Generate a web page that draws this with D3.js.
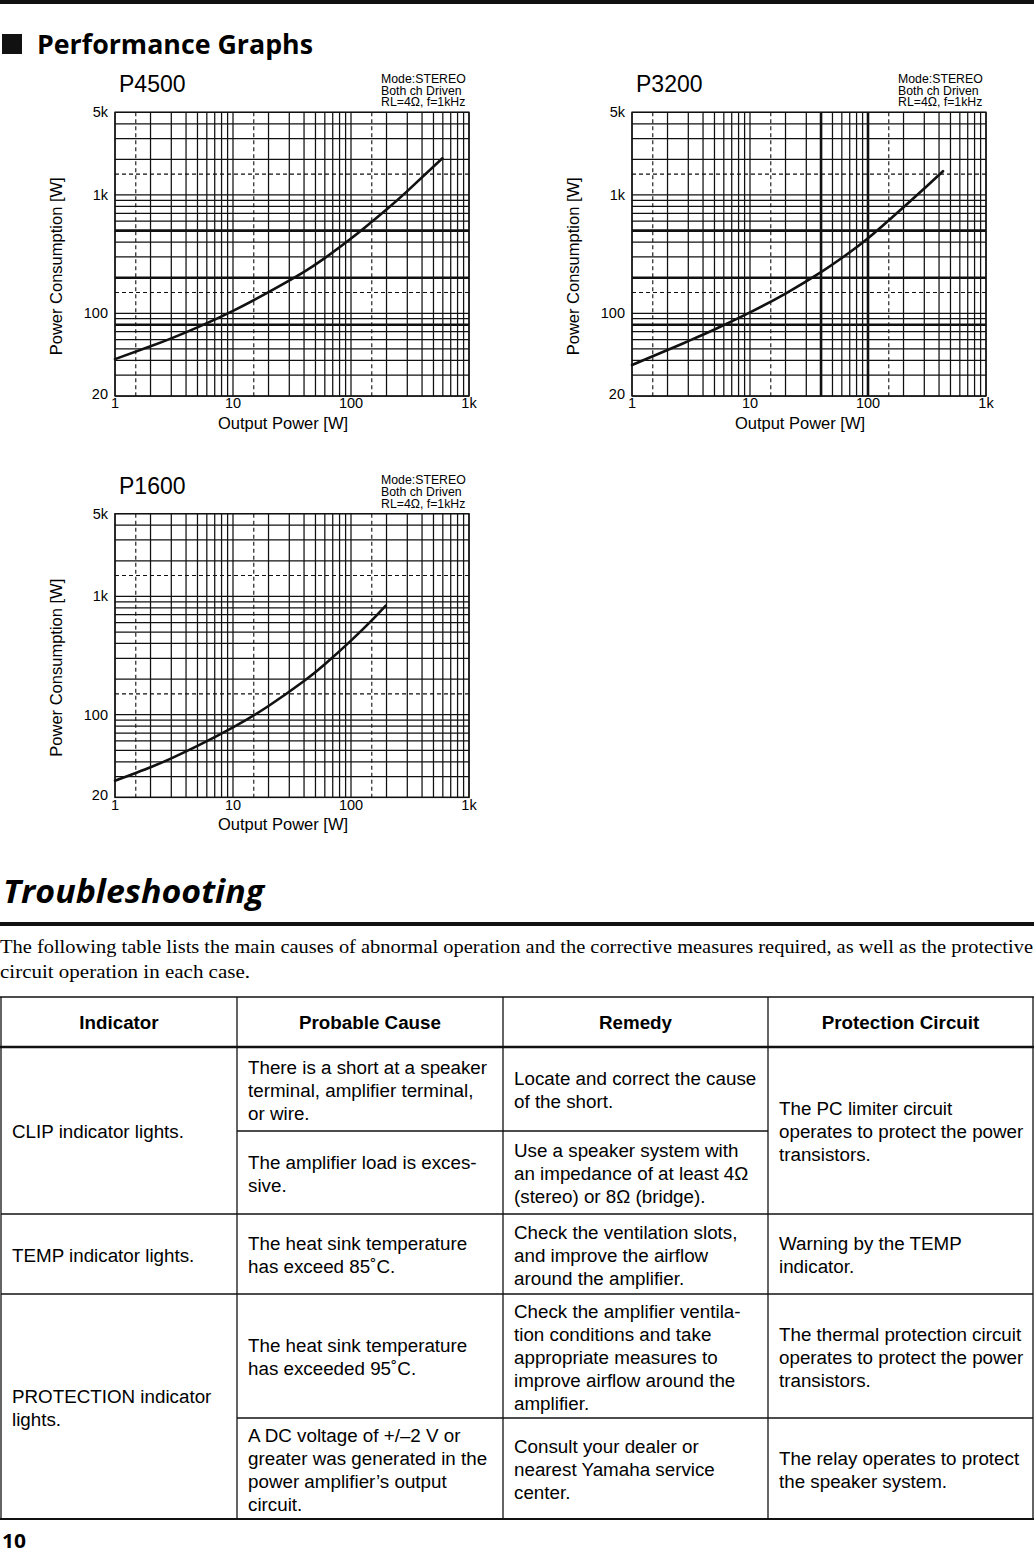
<!DOCTYPE html>
<html>
<head>
<meta charset="utf-8">
<script src="https://cdn.jsdelivr.net/npm/d3@7"></script>
<style>
  body { margin: 0; background: #fff; }
  svg { display: block; }
</style>
</head>
<body>
<div id="page"></div>
<script>
// axis ticks
const xTicks = [1, 10, 100, 1000];
const xTickLabels = ["1", "10", "100", "1k"];
const yTicks = [20, 100, 1000, 5000];
const yTickLabels = ["20", "100", "1k", "5k"];

// log grid
const xGrid = [1, 2, 3, 4, 5, 6, 7, 8, 9, 10, 20, 30, 40, 50, 60, 70, 80, 90,
  100, 200, 300, 400, 500, 600, 700, 800, 900, 1000];
const xDashed = [1.5, 15, 150];
const yGrid = [20, 30, 40, 50, 60, 70, 80, 90, 100, 200, 300, 400, 500, 600, 700, 800, 900,
  1000, 2000, 3000, 4000, 5000];
const yDashed = [150, 1500];

// curves: output power [W] -> power consumption [W]
const p4500Out = [1, 2, 3, 5, 10, 20, 40, 60, 100, 200, 300, 595];
const p4500In  = [41, 52.6, 61.4, 76, 105, 151, 224, 293, 428, 755, 1079, 2042];
const p3200Out = [1, 2, 3, 5, 10, 20, 40, 60, 100, 200, 300, 432];
const p3200In  = [36.6, 48.9, 58.2, 72.9, 101.7, 146.8, 222.8, 293.6, 431, 789, 1135, 1588];
const p1600Out = [1, 2, 3, 5, 10, 20, 40, 60, 100, 150, 197];
const p1600In  = [27.7, 36, 42.8, 54.5, 78.1, 118.5, 192.7, 267, 423, 626, 834];

const modeLines = ["Mode:STEREO", "Both ch Driven", "RL=4\u03a9, f=1kHz"];

// table content
const tableHeaders = ["Indicator", "Probable Cause", "Remedy", "Protection Circuit"];
const tableCells = [
  // [col, rowTop, rowBottom, lines]
  [0, 1047, 1214, ["CLIP indicator lights."]],
  [1, 1047, 1131, ["There is a short at a speaker", "terminal, amplifier terminal,", "or wire."]],
  [2, 1047, 1131, ["Locate and correct the cause", "of the short."]],
  [3, 1047, 1214, ["The PC limiter circuit", "operates to protect the power", "transistors."]],
  [1, 1131, 1214, ["The amplifier load is exces-", "sive."]],
  [2, 1131, 1214, ["Use a speaker system with", "an impedance of at least 4\u03a9", "(stereo) or 8\u03a9 (bridge)."]],
  [0, 1214, 1294, ["TEMP indicator lights."]],
  [1, 1214, 1294, ["The heat sink temperature", "has exceed 85\u02daC."]],
  [2, 1214, 1294, ["Check the ventilation slots,", "and improve the airflow", "around the amplifier."]],
  [3, 1214, 1294, ["Warning by the TEMP", "indicator."]],
  [0, 1294, 1519, ["PROTECTION indicator", "lights."]],
  [1, 1294, 1418, ["The heat sink temperature", "has exceeded 95\u02daC."]],
  [2, 1294, 1418, ["Check the amplifier ventila-", "tion conditions and take", "appropriate measures to", "improve airflow around the", "amplifier."]],
  [3, 1294, 1418, ["The thermal protection circuit", "operates to protect the power", "transistors."]],
  [1, 1418, 1519, ["A DC voltage of +/\u20132 V or", "greater was generated in the", "power amplifier\u2019s output", "circuit."]],
  [2, 1418, 1519, ["Consult your dealer or", "nearest Yamaha service", "center."]],
  [3, 1418, 1519, ["The relay operates to protect", "the speaker system."]]
];

const W = 1034, H = 1555;
const svg = d3.select("#page").append("svg")
  .attr("width", W)
  .attr("height", H)
  .style("font-family", "'Liberation Sans', Arial, sans-serif");

// page header
svg.append("rect").attr("x", 0).attr("y", 0).attr("width", W).attr("height", 4).attr("fill", "#111");
svg.append("rect").attr("x", 2).attr("y", 34).attr("width", 20).attr("height", 20).attr("fill", "#111");
svg.append("text")
  .attr("x", 37).attr("y", 54)
  .attr("textLength", 276).attr("lengthAdjust", "spacingAndGlyphs")
  .style("font-family", "'Open Sans', sans-serif")
  .style("font-weight", 700)
  .style("font-size", "26px")
  .text("Performance Graphs");

const charts = [
  { name: "P4500", left: 115, top: 112.3, out: p4500Out, inp: p4500In, heavyX: [], heavyY: [500, 200, 80] },
  { name: "P3200", left: 632, top: 112.3, out: p3200Out, inp: p3200In, heavyX: [40, 100], heavyY: [500, 200, 80] },
  { name: "P1600", left: 115, top: 513.7, out: p1600Out, inp: p1600In, heavyX: [], heavyY: [] }
];

const plotW = 354, plotH = 283.7;

charts.forEach(c => {
  const g = svg.append("g").attr("transform", `translate(${c.left},${c.top})`);

  const x = d3.scaleLog().domain([1, 1000]).range([0, plotW]);
  const y = d3.scaleLog().domain([20, 5000]).range([plotH, 0]);

  // grid
  g.selectAll(".vx").data(xGrid).join("line")
    .attr("x1", d => x(d)).attr("x2", d => x(d))
    .attr("y1", 0).attr("y2", plotH)
    .attr("stroke", "#111")
    .attr("stroke-width", d => c.heavyX.includes(d) ? 2.6 : 1.25);
  g.selectAll(".vd").data(xDashed).join("line")
    .attr("x1", d => x(d)).attr("x2", d => x(d))
    .attr("y1", 0).attr("y2", plotH)
    .attr("stroke", "#111").attr("stroke-width", 1.1)
    .attr("stroke-dasharray", "4,3");
  g.selectAll(".hy").data(yGrid).join("line")
    .attr("x1", 0).attr("x2", plotW)
    .attr("y1", d => y(d)).attr("y2", d => y(d))
    .attr("stroke", "#111")
    .attr("stroke-width", d => c.heavyY.includes(d) ? 2.6 : 1.25);
  g.selectAll(".hd").data(yDashed).join("line")
    .attr("x1", 0).attr("x2", plotW)
    .attr("y1", d => y(d)).attr("y2", d => y(d))
    .attr("stroke", "#111").attr("stroke-width", 1.1)
    .attr("stroke-dasharray", "4,3");

  // frame
  g.append("rect").attr("width", plotW).attr("height", plotH)
    .attr("fill", "none").attr("stroke", "#111").attr("stroke-width", 1.4);

  // curve
  const pts = c.out.map((d, i) => [d, c.inp[i]]);
  g.append("path")
    .datum(pts)
    .attr("fill", "none")
    .attr("stroke", "#111")
    .attr("stroke-width", 2.6)
    .attr("stroke-linecap", "round")
    .attr("d", d3.line().x(d => x(d[0])).y(d => y(d[1])).curve(d3.curveNatural));

  // tick labels
  g.selectAll(".xt").data(xTicks).join("text")
    .attr("x", d => x(d)).attr("y", plotH + 12.5)
    .attr("text-anchor", "middle")
    .style("font-size", "14.5px")
    .text((d, i) => xTickLabels[i]);
  g.selectAll(".yt").data(yTicks).join("text")
    .attr("x", -7).attr("y", d => y(d) + (d === 20 ? 3 : 5))
    .attr("text-anchor", "end")
    .style("font-size", "14.5px")
    .text((d, i) => yTickLabels[i]);

  // titles
  g.append("text").attr("x", 4).attr("y", -20)
    .style("font-size", "23px").text(c.name);
  g.selectAll(".mode").data(modeLines).join("text")
    .attr("x", 266).attr("y", (d, i) => -29.5 + i * 11.8)
    .style("font-size", "12.3px")
    .text(d => d);

  g.append("text")
    .attr("transform", `translate(-53,${154}) rotate(-90)`)
    .attr("text-anchor", "middle")
    .style("font-size", "16.5px")
    .text("Power Consumption [W]");
  g.append("text")
    .attr("x", 168).attr("y", plotH + 33)
    .attr("text-anchor", "middle")
    .style("font-size", "16.5px")
    .text("Output Power [W]");
});

// troubleshooting section
svg.append("text")
  .attr("x", 3).attr("y", 903)
  .attr("textLength", 261).attr("lengthAdjust", "spacingAndGlyphs")
  .style("font-family", "'Open Sans', sans-serif")
  .style("font-weight", 700).style("font-style", "italic")
  .style("font-size", "32px")
  .text("Troubleshooting");
svg.append("rect").attr("x", 0).attr("y", 922).attr("width", W).attr("height", 4).attr("fill", "#111");

const para = ["The following table lists the main causes of abnormal operation and the corrective measures required, as well as the protective",
  "circuit operation in each case."];
const paraWidths = [1033, 250];
svg.selectAll(".para").data(para).join("text")
  .attr("x", 0).attr("y", (d, i) => 953 + i * 25)
  .attr("textLength", (d, i) => paraWidths[i])
  .attr("lengthAdjust", "spacingAndGlyphs")
  .style("font-family", "'Liberation Serif', 'Times New Roman', serif")
  .style("font-size", "18.5px")
  .text(d => d);

// table
const colX = [1, 237, 503, 768, 1033];
const tTop = 997, tHead = 1047, tBottom = 1519;
const tg = svg.append("g");

tg.selectAll(".th").data(tableHeaders).join("text")
  .attr("x", (d, i) => (colX[i] + colX[i + 1]) / 2)
  .attr("y", 1029)
  .attr("text-anchor", "middle")
  .style("font-weight", 700).style("font-size", "18.8px")
  .text(d => d);

tableCells.forEach(([col, r0, r1, lines]) => {
  const mid = (r0 + r1) / 2 + 1;
  const lh = 23;
  const first = mid - (lines.length - 1) * lh / 2 + 6.5;
  tg.append("text")
    .attr("x", colX[col] + 11)
    .style("font-size", "18.8px")
    .selectAll("tspan").data(lines).join("tspan")
    .attr("x", colX[col] + 11)
    .attr("y", (d, i) => first + i * lh)
    .text(d => d);
});

// table rules
const hLines = [
  [colX[0], colX[4], 1214], [colX[0], colX[4], 1294],
  [colX[1], colX[3], 1131], [colX[1], colX[4], 1418]
];
tg.selectAll(".hl").data(hLines).join("line")
  .attr("x1", d => d[0]).attr("x2", d => d[1])
  .attr("y1", d => d[2]).attr("y2", d => d[2])
  .attr("stroke", "#111").attr("stroke-width", 1.3);
tg.selectAll(".vl").data(colX).join("line")
  .attr("x1", d => d).attr("x2", d => d)
  .attr("y1", tTop).attr("y2", tBottom)
  .attr("stroke", "#111").attr("stroke-width", 1.3);
tg.append("line").attr("x1", 0).attr("x2", W).attr("y1", tTop).attr("y2", tTop)
  .attr("stroke", "#111").attr("stroke-width", 1.5);
tg.append("line").attr("x1", 0).attr("x2", W).attr("y1", tHead).attr("y2", tHead)
  .attr("stroke", "#111").attr("stroke-width", 2.6);
tg.append("line").attr("x1", 0).attr("x2", W).attr("y1", tBottom).attr("y2", tBottom)
  .attr("stroke", "#111").attr("stroke-width", 1.8);

// page number
svg.append("text")
  .attr("x", 2).attr("y", 1548)
  .attr("textLength", 24).attr("lengthAdjust", "spacingAndGlyphs")
  .style("font-family", "'Open Sans', sans-serif")
  .style("font-weight", 700).style("font-size", "19px")
  .text("10");
</script>
</body>
</html>
